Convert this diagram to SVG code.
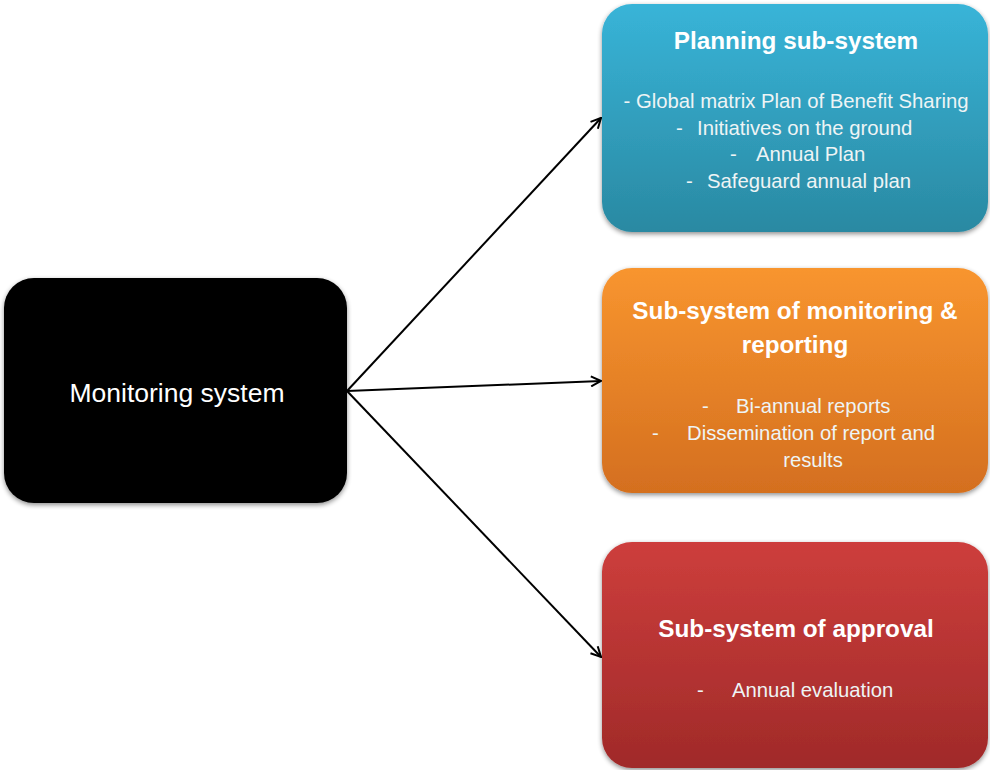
<svg xmlns="http://www.w3.org/2000/svg" width="990" height="770" viewBox="0 0 990 770">
<defs>
<linearGradient id="gBlue" x1="0" y1="0" x2="0" y2="1"><stop offset="0" stop-color="#38b4d8"/><stop offset="1" stop-color="#2a89a2"/></linearGradient>
<linearGradient id="gOrange" x1="0" y1="0" x2="0" y2="1"><stop offset="0" stop-color="#f8952f"/><stop offset="1" stop-color="#d46f1f"/></linearGradient>
<linearGradient id="gRed" x1="0" y1="0" x2="0" y2="1"><stop offset="0" stop-color="#cd3e3c"/><stop offset="1" stop-color="#a02a29"/></linearGradient>
<filter id="sh" x="-10%" y="-10%" width="120%" height="125%"><feGaussianBlur in="SourceAlpha" stdDeviation="2.5"/><feOffset dx="0" dy="2" result="b"/><feComponentTransfer><feFuncA type="linear" slope="0.45"/></feComponentTransfer><feMerge><feMergeNode/><feMergeNode in="SourceGraphic"/></feMerge></filter>
<marker id="arr" viewBox="0 0 12 12" refX="11" refY="6" markerWidth="12" markerHeight="12" markerUnits="userSpaceOnUse" orient="auto"><path d="M1,1 L11,6 L1,11" fill="none" stroke="#000" stroke-width="2"/></marker>
<style>
.title{font-family:"Liberation Sans",Arial,sans-serif;font-weight:bold;font-size:24.3px;fill:#fff;text-anchor:middle}
.body{font-family:"Liberation Sans",Arial,sans-serif;font-size:20.3px;fill:#eef4f5}
.c{text-anchor:middle}
.main{font-family:"Liberation Sans",Arial,sans-serif;font-size:26.5px;fill:#fff;text-anchor:middle}
.conn{stroke:#000;stroke-width:2;fill:none}
</style>
</defs>
<rect width="990" height="770" fill="#fff"/>
<g id="monitoring">
<rect x="4" y="278" width="343" height="225" rx="30" fill="#000" filter="url(#sh)"/>
<text class="main" x="177" y="402">Monitoring system</text>
</g>
<g id="planning">
<rect x="602" y="4" width="386" height="228" rx="30" fill="url(#gBlue)" filter="url(#sh)"/>
<text class="title" x="796" y="49">Planning sub-system</text>
<text class="body c" x="796" y="108">- Global matrix Plan of Benefit Sharing</text>
<text class="body" x="676" y="135">-</text><text class="body" x="697" y="135">Initiatives on the ground</text>
<text class="body" x="730" y="161">-</text><text class="body" x="756" y="161">Annual Plan</text>
<text class="body" x="686" y="188">-</text><text class="body" x="707" y="188">Safeguard annual plan</text>
</g>
<g id="reporting">
<rect x="602" y="268" width="386" height="225" rx="30" fill="url(#gOrange)" filter="url(#sh)"/>
<text class="title" x="795" y="319">Sub-system of monitoring &amp;</text>
<text class="title" x="795" y="353">reporting</text>
<text class="body" x="702" y="413">-</text><text class="body" x="736" y="413">Bi-annual reports</text>
<text class="body" x="652" y="440">-</text><text class="body" x="687" y="440">Dissemination of report and</text>
<text class="body c" x="813" y="467">results</text>
</g>
<g id="approval">
<rect x="602" y="542" width="386" height="226" rx="30" fill="url(#gRed)" filter="url(#sh)"/>
<text class="title" x="796" y="637">Sub-system of approval</text>
<text class="body" x="697" y="697">-</text><text class="body" x="732" y="697">Annual evaluation</text>
</g>
<g id="connectors">
<line class="conn" x1="347" y1="391" x2="601" y2="118" marker-end="url(#arr)"/>
<line class="conn" x1="347" y1="391" x2="601" y2="381" marker-end="url(#arr)"/>
<line class="conn" x1="347" y1="391" x2="601" y2="657" marker-end="url(#arr)"/>
</g>
</svg>
